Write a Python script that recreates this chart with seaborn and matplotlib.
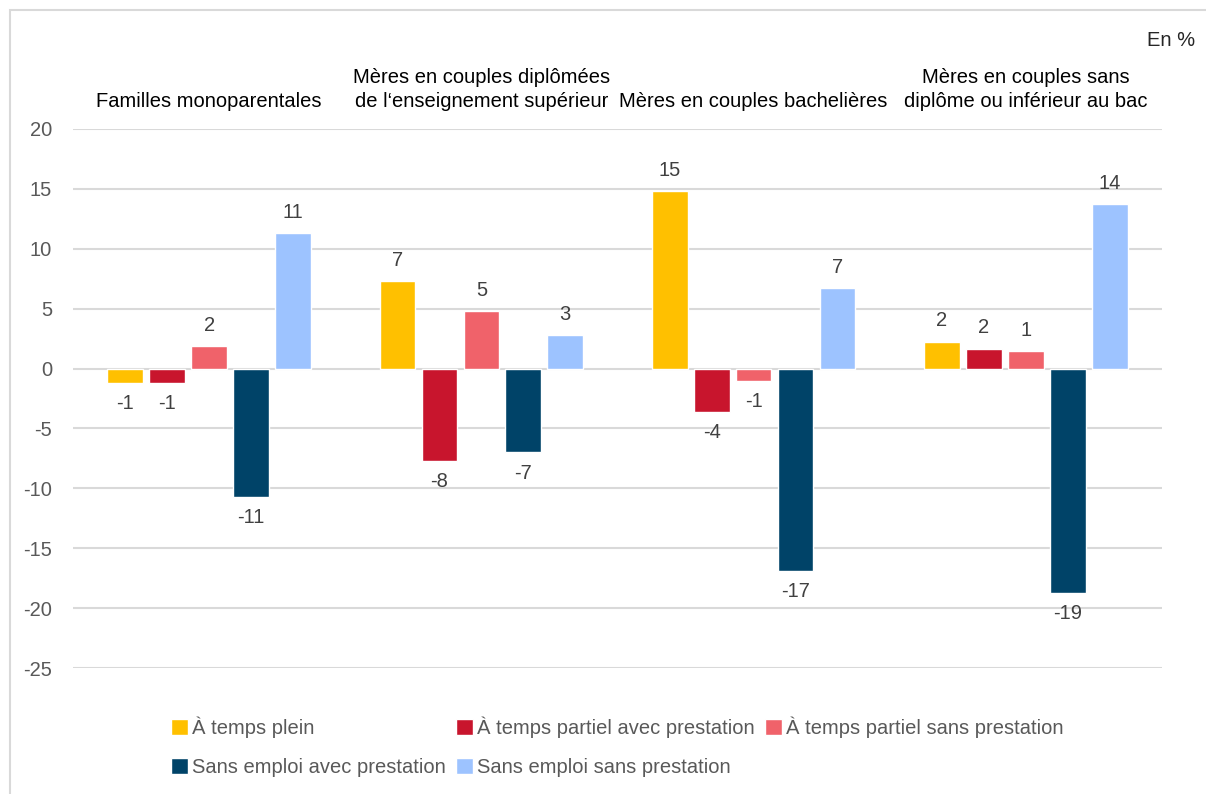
import pandas as pd
import matplotlib.pyplot as plt
import seaborn as sns
from matplotlib.patches import Rectangle

# Data (En %)
groups = ["Familles monoparentales",
          "Mères en couples diplômées\nde l‘enseignement supérieur",
          "Mères en couples bachelières",
          "Mères en couples sans\ndiplôme ou inférieur au bac"]
series = ["À temps plein", "À temps partiel avec prestation",
          "À temps partiel sans prestation", "Sans emploi avec prestation",
          "Sans emploi sans prestation"]
temps_plein = [-1.2, 7.3, 14.8, 2.25]
partiel_avec = [-1.2, -7.75, -3.6, 1.67]
partiel_sans = [1.9, 4.8, -1.0, 1.45]
sans_emploi_avec = [-10.7, -7.0, -16.9, -18.75]
sans_emploi_sans = [11.3, 2.8, 6.75, 13.7]
colors = ["#FFC000", "#C8152D", "#F0626A", "#004368", "#9DC3FF"]

values = [temps_plein, partiel_avec, partiel_sans, sans_emploi_avec, sans_emploi_sans]
rows = []
for s, vals in zip(series, values):
    for g, v in zip(groups, vals):
        rows.append({"groupe": g, "serie": s, "valeur": v})
df = pd.DataFrame(rows)

sns.set_style("white")
plt.rcParams["font.family"] = ["Liberation Sans", "DejaVu Sans"]
plt.rcParams["axes.unicode_minus"] = False
fs = 14.5

fig = plt.figure(figsize=(12.06, 7.94), dpi=100)
ax = fig.add_axes([73 / 1206, 1 - 668 / 794, (1162 - 73) / 1206, (668 - 129) / 794])

sns.barplot(data=df, x="groupe", y="valeur", hue="serie", order=groups,
            hue_order=series, palette=colors, saturation=1, errorbar=None,
            width=0.77, gap=0.15, ax=ax)

for c in ax.containers:
    ax.bar_label(c, fmt="%.0f", padding=8, fontsize=fs, color="#404040")

ax.set_ylim(-25, 20)
ax.set_yticks(range(-25, 21, 5))
ax.set_xlim(-0.5, 3.5)
ax.yaxis.grid(True, color="#D9D9D9", linewidth=1.5)
ax.set_axisbelow(True)
sns.despine(ax=ax, left=True, bottom=True)
ax.set_xlabel("")
ax.set_ylabel("")
ax.set_xticks([])
ax.tick_params(axis="y", length=0, pad=15, labelsize=fs, labelcolor="#595959")

# group titles above the plot
for i, g in enumerate(groups):
    ax.text(i, 21.5, g, ha="center", va="bottom", fontsize=fs, color="#000000",
            linespacing=1.35, clip_on=False)

fig.text(1195 / 1206, 1 - 40 / 794, "En %", ha="right", va="center", fontsize=fs)

# legend in row order
ax.get_legend().remove()
handles, labels = ax.get_legend_handles_labels()
order = [0, 3, 1, 4, 2]
fig.legend([handles[i] for i in order], [labels[i] for i in order], ncol=3,
           loc="center", bbox_to_anchor=(617 / 1206, 1 - 747 / 794), frameon=False,
           fontsize=fs, labelcolor="#595959", handlelength=0.85, handleheight=0.85,
           handletextpad=0.2, columnspacing=0.5, labelspacing=1.0)

# light frame around the chart
fig.add_artist(Rectangle((10 / 1206, -0.2), 1.2, 1.2 - 10 / 794, transform=fig.transFigure,
                         fill=False, edgecolor="#D9D9D9", linewidth=1.5))

fig.savefig("out.png", dpi=100)
